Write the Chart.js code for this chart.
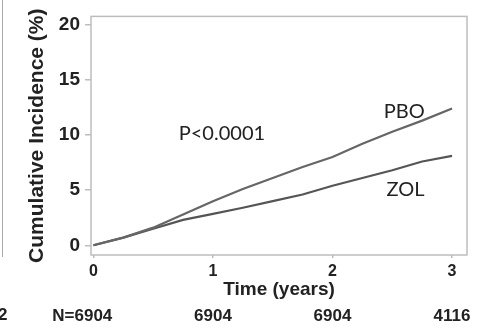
<!DOCTYPE html>
<html><head><meta charset="utf-8">
<script src="https://cdn.jsdelivr.net/npm/chart.js@4"></script>
<style>
html,body{margin:0;padding:0;background:#fff;overflow:hidden}
#wrap{position:relative;width:483px;height:328px}
#edge{position:absolute;left:2px;top:0;width:1px;height:257px;background:#aaa}
#cut{position:absolute;left:-2px;top:305px;font:bold 17px "Liberation Sans",Arial,sans-serif;color:#222}
</style></head><body>
<div id="wrap"><canvas id="c" width="483" height="328"></canvas><div id="edge"></div><div id="cut">2</div></div>
<script>
// Data
const years = [0, 0.25, 0.5, 0.75, 1, 1.25, 1.5, 1.75, 2, 2.25, 2.5, 2.75, 3];
const pbo   = [0, 0.7, 1.6, 2.8, 4.0, 5.1, 6.1, 7.1, 8.0, 9.2, 10.3, 11.3, 12.4];
const zol   = [0, 0.7, 1.5, 2.3, 2.85, 3.4, 4.0, 4.6, 5.4, 6.1, 6.8, 7.6, 8.1];
const xTicks = [0, 1, 2, 3];
const yTicks = [0, 5, 10, 15, 20];
const atRiskYears = [0, 1, 2, 3];
const atRisk = ['6904', '6904', '6904', '4116'];
const atRiskPrefix = 'N=';
const notes = [
  {text: 'P<0.0001', x: 1.075, y: 10.1},
  {text: 'PBO', x: 2.6, y: 12.1},
  {text: 'ZOL', x: 2.61, y: 5.07}
];

const FONT = '"Liberation Sans", Arial, sans-serif';
const frame = {
  id: 'frame',
  afterDraw(chart) {
    const {ctx, chartArea: a} = chart;
    ctx.save();
    ctx.strokeStyle = '#bdbdbd';
    ctx.lineWidth = 1.5;
    ctx.strokeRect(a.left, a.top, a.right - a.left, a.bottom - a.top);
    ctx.restore();
  }
};
const labels = {
  id: 'labels',
  afterDraw(chart) {
    const {ctx, scales: {x, y}} = chart;
    ctx.save();
    ctx.fillStyle = '#222';
    ctx.font = '20px Lato, "Open Sans", sans-serif';
    ctx.textAlign = 'center';
    ctx.textBaseline = 'middle';
    notes.forEach(n => ctx.fillText(n.text, x.getPixelForValue(n.x), y.getPixelForValue(n.y)));
    ctx.font = 'bold 17px ' + FONT;
    const rowY = 316;
    atRisk.forEach((v, i) => {
      const px = x.getPixelForValue(atRiskYears[i]);
      ctx.textAlign = 'center';
      ctx.fillText(v, px, rowY);
      if (i === 0) {
        ctx.textAlign = 'right';
        ctx.fillText(atRiskPrefix, px - ctx.measureText(v).width / 2, rowY);
      }
    });
    ctx.restore();
  }
};

new Chart(document.getElementById('c'), {
  type: 'line',
  data: {
    datasets: [
      {label: 'PBO', data: years.map((t, i) => ({x: t, y: pbo[i]})), borderColor: '#666666', borderWidth: 2.2, pointRadius: 0, tension: 0},
      {label: 'ZOL', data: years.map((t, i) => ({x: t, y: zol[i]})), borderColor: '#555555', borderWidth: 2.2, pointRadius: 0, tension: 0}
    ]
  },
  options: {
    responsive: false,
    devicePixelRatio: 1,
    animation: false,
    layout: {padding: {top: 9, right: 16, left: 0, bottom: 0}},
    plugins: {legend: {display: false}, tooltip: {enabled: false}},
    scales: {
      x: {
        type: 'linear', min: -0.02, max: 3.125,
        afterBuildTicks: s => { s.ticks = xTicks.map(v => ({value: v})); },
        afterFit: s => { s.height = 73; },
        border: {display: false},
        grid: {drawOnChartArea: false, drawTicks: true, tickLength: 3, color: '#bdbdbd', lineWidth: 1.5},
        ticks: {color: '#222', font: {family: FONT, size: 16, weight: 'bold'}, padding: 4, maxRotation: 0},
        title: {display: true, text: 'Time (years)', color: '#222', font: {family: FONT, size: 19, weight: 'bold'}, padding: {top: 0, bottom: 27}}
      },
      y: {
        type: 'linear', min: -0.88, max: 20.75,
        afterBuildTicks: s => { s.ticks = yTicks.map(v => ({value: v})); },
        afterFit: s => { s.width = 91; },
        border: {display: false},
        grid: {drawOnChartArea: false, drawTicks: true, tickLength: 6, color: '#bdbdbd', lineWidth: 1.5},
        ticks: {color: '#222', font: {family: FONT, size: 19, weight: 'bold'}, padding: 5},
        title: {display: true, text: 'Cumulative Incidence (%)', color: '#222', font: {family: FONT, size: 21, weight: 'bold'}, padding: {top: 25, bottom: 0}}
      }
    }
  },
  plugins: [frame, labels]
});
</script>
</body></html>
